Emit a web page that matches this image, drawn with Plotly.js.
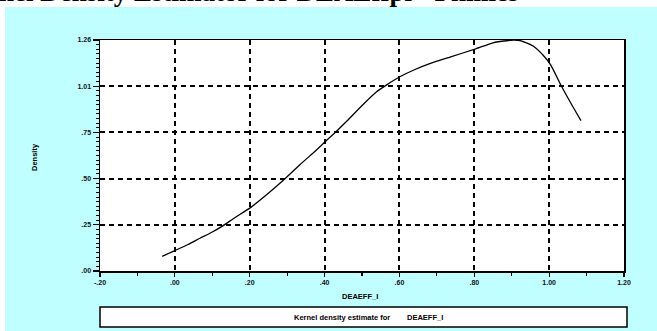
<!DOCTYPE html>
<html>
<head>
<meta charset="utf-8">
<script src="https://cdn.plot.ly/plotly-3.0.1.min.js"></script>
<style>html,body{margin:0;padding:0;background:#fff;}#chart{width:657px;height:331px;}</style>
</head>
<body>
<div id="chart"></div>
<script>
// Kernel density estimate
var densityX = [-0.034, 0.000, 0.035, 0.067, 0.100, 0.129, 0.160, 0.202, 0.245, 0.289, 0.334, 0.379, 0.403, 0.427, 0.459, 0.503, 0.539, 0.566, 0.601, 0.640, 0.681, 0.735, 0.804, 0.850, 0.886, 0.905, 0.922, 0.957, 0.984, 1.004, 1.033, 1.060, 1.085];
var densityY = [0.080, 0.111, 0.144, 0.178, 0.212, 0.247, 0.290, 0.345, 0.415, 0.492, 0.578, 0.660, 0.706, 0.751, 0.815, 0.906, 0.975, 1.013, 1.057, 1.095, 1.128, 1.164, 1.209, 1.242, 1.253, 1.256, 1.254, 1.224, 1.174, 1.122, 1.005, 0.906, 0.818];

var xTickVals = [-0.2, 0, 0.2, 0.4, 0.6, 0.8, 1.0, 1.2];
var xTickText = ["-.20", ".00", ".20", ".40", ".60", ".80", "1.00", "1.20"];
var yTickVals = [0, 0.2514, 0.5028, 0.7542, 1.0056, 1.257];
var yTickText = [".00", ".25", ".50", ".75", "1.01", "1.26"];

var titleText = "Kernel Density Estimator for DEAEffpi - Phillies";
var xTitle = "DEAEFF_I";
var yTitle = "Density";
var legendLabel = "Kernel density estimate for";
var legendVar = "DEAEFF_I";

var tickFont = {family: "Liberation Sans, Arial, sans-serif", size: 7, color: "#111122", weight: "bold"};
var smallFont = {family: "Liberation Sans, Arial, sans-serif", size: 7.5, color: "#000", weight: "bold"};

var trace = {
  x: densityX, y: densityY, type: "scatter", mode: "lines",
  line: {color: "#000", width: 1.3, shape: "spline", smoothing: 0.6},
  hoverinfo: "skip", showlegend: false
};

var layout = {
  width: 657, height: 331,
  margin: {l: 100, r: 33, t: 40, b: 60},
  paper_bgcolor: "#c0ffff",
  plot_bgcolor: "#ffffff",
  showlegend: false,
  xaxis: {
    range: [-0.2, 1.2], tickmode: "array", tickvals: xTickVals, ticktext: xTickText,
    ticks: "outside", ticklen: 4, tickwidth: 1.2, tickcolor: "#000",
    showline: true, linecolor: "#000", linewidth: 1.5, mirror: true,
    showgrid: true, gridcolor: "#000", gridwidth: 2, griddash: "5px,4px",
    zeroline: false, tickfont: tickFont, fixedrange: true,
    minor: {dtick: 0.1, tick0: 0, ticks: "outside", ticklen: 3, tickcolor: "#000", tickwidth: 1.2, showgrid: false}
  },
  yaxis: {
    range: [0, 1.257], tickmode: "array", tickvals: yTickVals, ticktext: yTickText,
    ticks: "outside", ticklen: 6, tickwidth: 1.2, tickcolor: "#000",
    showline: true, linecolor: "#000", linewidth: 1.5, mirror: true,
    showgrid: true, gridcolor: "#000", gridwidth: 2, griddash: "5px,4px",
    zeroline: false, tickfont: tickFont, fixedrange: true,
    minor: {dtick: 0.02514, tick0: 0, ticks: "outside", ticklen: 3, tickcolor: "#000", tickwidth: 1, showgrid: false}
  },
  shapes: [
    {type: "rect", xref: "paper", yref: "paper", x0: -0.25, x1: 1.1, y0: (271 - 7) / 231, y1: 1.3,
     fillcolor: "#ffffff", line: {width: 0}, layer: "below"},
    {type: "rect", xref: "paper", yref: "paper", x0: -0.25, x1: (5 - 100) / 524, y0: -0.3, y1: 1.3,
     fillcolor: "#ffffff", line: {width: 0}, layer: "below"},
    {type: "rect", xref: "paper", yref: "paper", x0: 0, x1: (627 - 100) / 524, y0: (271 - 327) / 231, y1: (271 - 307) / 231,
     fillcolor: "#ffffff", line: {color: "#000", width: 1.5}, layer: "above"}
  ],
  annotations: [
    {text: titleText, xref: "paper", yref: "paper", x: (520 - 100) / 524, y: (271 - 9) / 231,
     xanchor: "right", yanchor: "bottom", showarrow: false,
     font: {family: "Liberation Serif, Times New Roman, serif", size: 27, color: "#000", weight: "bold"}},
    {text: yTitle, xref: "paper", yref: "paper", x: (34 - 100) / 524, y: (271 - 157) / 231,
     xanchor: "center", yanchor: "middle", textangle: -90, showarrow: false, font: smallFont},
    {text: xTitle, xref: "paper", yref: "paper", x: (360 - 100) / 524, y: (271 - 296) / 231,
     xanchor: "center", yanchor: "middle", showarrow: false, font: smallFont},
    {text: legendLabel, xref: "paper", yref: "paper", x: (392 - 100) / 524, y: (271 - 317) / 231,
     xanchor: "right", yanchor: "middle", showarrow: false, font: smallFont},
    {text: legendVar, xref: "paper", yref: "paper", x: (405 - 100) / 524, y: (271 - 317) / 231,
     xanchor: "left", yanchor: "middle", showarrow: false, font: smallFont}
  ]
};

Plotly.newPlot("chart", [trace], layout, {displayModeBar: false, staticPlot: true});
</script>
</body>
</html>
